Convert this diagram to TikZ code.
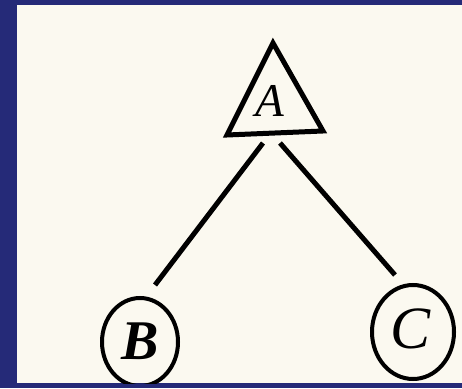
\documentclass[tikz,border=0pt]{standalone}
\usepackage{fontspec}
\setmainfont{Liberation Serif}
\usetikzlibrary{shapes.geometric}
\definecolor{bgblue}{HTML}{252A78}
\definecolor{paper}{HTML}{FBF9F0}
\tikzset{
  ink/.style={line width=5pt, black},
  leaf/.style={draw, ellipse, line width=4pt, inner sep=0pt},
  lbl/.style={inner sep=0pt}
}
\begin{document}
\begin{tikzpicture}[x=1pt,y=1pt]
\useasboundingbox (0,0) rectangle (462,388);
\fill[bgblue] (0,0) rectangle (462,388);
\fill[paper] (17,5) rectangle (462,383);
% triangle root
\coordinate (t1) at (273,345);
\coordinate (t2) at (227,253);
\coordinate (t3) at (323,257);
\draw[ink, line join=miter] (t1) -- (t2) -- (t3) -- cycle;
\node[lbl, font=\fontsize{47}{47}\selectfont\itshape] (A) at (270,287) {A};
% leaves
\begin{scope}
\clip (17,5) rectangle (462,383);
\node[leaf, minimum width=76pt, minimum height=88pt] (B) at (140,46) {};
\node[leaf, minimum width=82pt, minimum height=94pt] (C) at (413,56) {};
\end{scope}
\node[lbl, font=\fontsize{56}{56}\selectfont\bfseries\itshape] (Bl) at (140,47) {B};
\node[lbl, font=\fontsize{60}{60}\selectfont\itshape] (Cl) at (411,59) {C};
% connectors
\coordinate (ab1) at (263,245);
\coordinate (ab2) at (155,103);
\coordinate (ac1) at (280,245);
\coordinate (ac2) at (395,113);
\draw[ink] (ab1) -- (ab2);
\draw[ink] (ac1) -- (ac2);
\end{tikzpicture}
\end{document}
